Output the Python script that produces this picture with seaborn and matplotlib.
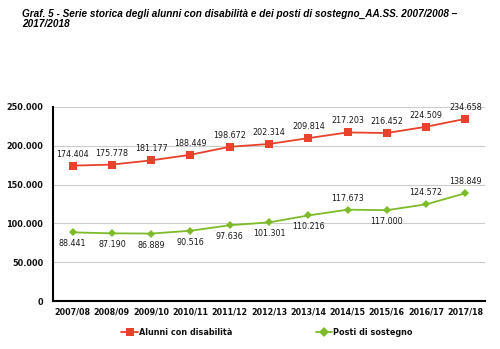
import matplotlib
matplotlib.use("Agg")
import matplotlib.pyplot as plt
import seaborn as sns
import pandas as pd

years = ["2007/08", "2008/09", "2009/10", "2010/11", "2011/12", "2012/13",
         "2013/14", "2014/15", "2015/16", "2016/17", "2017/18"]
alunni = [174404, 175778, 181177, 188449, 198672, 202314, 209814, 217203, 216452, 224509, 234658]
posti = [88441, 87190, 86889, 90516, 97636, 101301, 110216, 117673, 117000, 124572, 138849]
posti_above = [False, False, False, False, False, False, False, True, False, True, True]

sns.set_theme(style="white")
plt.rcParams['font.family'] = ['DejaVu Sans']

fig = plt.figure(figsize=(5, 3.49), dpi=100)
ax = fig.add_axes([0.106, 0.1375, 0.864, 0.556])

red = "#E8412C"
green = "#7DBB2A"
df = pd.DataFrame({"x": list(range(len(years))) * 2,
                   "v": alunni + posti,
                   "s": ["Alunni con disabilità"] * len(years) + ["Posti di sostegno"] * len(years)})

sns.lineplot(data=df, x="x", y="v", hue="s", style="s",
             palette={"Alunni con disabilità": red, "Posti di sostegno": green},
             markers={"Alunni con disabilità": "s", "Posti di sostegno": "D"},
             dashes=False, markersize=5.5, linewidth=1.3, markeredgewidth=0, ax=ax)
ax.lines[1].set_markersize(4)

def fmt(v):
    return f"{v:,}".replace(",", ".")

lab_kw = dict(textcoords="offset points", ha="center", fontsize=5.8, color="#1a1a1a")
for i, v in enumerate(alunni):
    ax.annotate(fmt(v), (i, v), xytext=(0, 5), va="bottom", **lab_kw)
for i, v in enumerate(posti):
    if posti_above[i]:
        ax.annotate(fmt(v), (i, v), xytext=(0, 5), va="bottom", **lab_kw)
    else:
        ax.annotate(fmt(v), (i, v), xytext=(0, -5), va="top", **lab_kw)

ax.set_xlim(-0.5, len(years) - 0.5)
ax.set_ylim(0, 250000)
ax.set_yticks(range(0, 250001, 50000))
ax.set_yticklabels([fmt(t) for t in range(0, 250001, 50000)], fontsize=5.9, fontweight="bold", color="#111111")
ax.set_xticks(range(len(years)))
ax.set_xticklabels(years, fontsize=5.8, fontweight="bold", color="#111111")
ax.tick_params(axis="y", length=0, pad=7)
ax.tick_params(axis="x", length=0, pad=5)
ax.yaxis.grid(True, color="#cccccc", linewidth=0.8)
ax.set_axisbelow(True)
ax.set_xlabel("")
ax.set_ylabel("")
for s in ["top", "right"]:
    ax.spines[s].set_visible(False)
for s in ["left", "bottom"]:
    ax.spines[s].set_color("black")
    ax.spines[s].set_linewidth(1.5)

leg = ax.legend(loc="upper center", bbox_to_anchor=(0.495, -0.1), ncol=2, frameon=False,
                fontsize=5.9, columnspacing=10.2, handlelength=2.0, handletextpad=0.1)
for t in leg.get_texts():
    t.set_fontweight("bold")
    t.set_color("#111111")

fig.text(0.044, 0.975, "Graf. 5 - Serie storica degli alunni con disabilità e dei posti di sostegno_AA.SS. 2007/2008 –\n2017/2018",
         ha="left", va="top", fontsize=7.2, fontweight="bold", fontstyle="italic",
         family="Liberation Sans", linespacing=1.05, color="black")

fig.savefig("out.png", dpi=100)
